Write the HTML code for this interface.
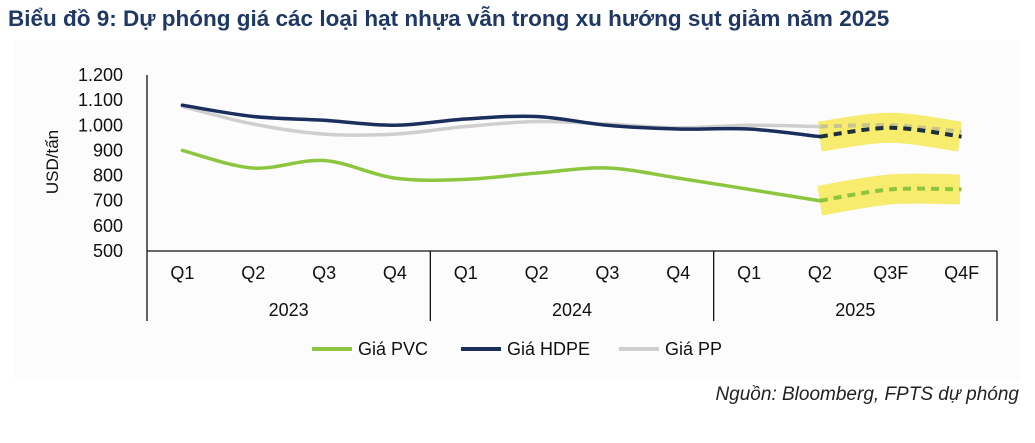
<!DOCTYPE html>
<html><head><meta charset="utf-8"><style>
body{margin:0;background:#fff;width:1035px;height:443px;overflow:hidden;font-family:"Liberation Sans",sans-serif}
#title{position:absolute;left:8px;top:6px;font-size:22.5px;font-weight:bold;color:#1f3864;white-space:nowrap}
#bg{position:absolute;left:15px;top:40px;width:1005px;height:340px;background:#fcfcfc}
#src{position:absolute;right:16px;top:384px;font-size:19px;font-style:italic;color:#222;white-space:nowrap}
svg{position:absolute;left:0;top:0}
</style></head><body>
<div id="title">Biểu đồ 9: Dự phóng giá các loại hạt nhựa vẫn trong xu hướng sụt giảm năm 2025</div>
<div id="bg"></div>
<svg id="chart" width="1035" height="443"></svg>
<div id="src">Nguồn: Bloomberg, FPTS dự phóng</div>
<script>
const quarters=["Q1","Q2","Q3","Q4","Q1","Q2","Q3","Q4","Q1","Q2","Q3F","Q4F"];
const years=["2023","2024","2025"];
const yTicks=[500,600,700,800,900,1000,1100,1200];
const yTickLabels=["500","600","700","800","900","1.000","1.100","1.200"];
const pvc=[900,830,860,790,785,810,830,790,745,700,745,745];
const hdpe=[1080,1035,1020,1000,1025,1035,1000,985,985,955,990,955];
const pp=[1075,1005,965,965,995,1015,1005,990,1000,995,1000,975];
const forecastStart=9;
const NS="http://www.w3.org/2000/svg";
const svg=document.getElementById('chart');
const X0=147,X1=997,Y0=251,Y1=75,YMIN=500,YMAX=1200;
const bw=(X1-X0)/quarters.length;
const xs=i=>X0+bw*(i+0.5);
const ys=v=>Y0-(v-YMIN)/(YMAX-YMIN)*(Y0-Y1);
function mk(tag,attrs){const e=document.createElementNS(NS,tag);for(const k in attrs)e.setAttribute(k,attrs[k]);svg.appendChild(e);return e;}
function txt(x,y,s,anchor,size){const t=mk('text',{x:x,y:y,'text-anchor':anchor,'font-size':size,fill:'#111','font-family':'Liberation Sans, sans-serif'});t.textContent=s;return t;}
let a=mk('line',{x1:X0,y1:Y1,x2:X0,y2:321,stroke:'#111','stroke-width':1.3});


a=mk('line',{x1:X0,y1:Y0,x2:X1,y2:Y0,stroke:'#111','stroke-width':1.3});


yTicks.forEach((v,i)=>{const t=txt(123,ys(v)+6,yTickLabels[i],'end',18);

});
const yt=txt(0,0,'USD/tấn','middle',17);
yt.setAttribute('transform','translate(58,162) rotate(-90)');


quarters.forEach((q,i)=>{const t=txt(xs(i),279,q,'middle',18);

});
years.forEach((y,g)=>{const gx0=X0+g*4*bw;
const l=mk('line',{x1:gx0+4*bw,y1:Y0,x2:gx0+4*bw,y2:321,stroke:'#111','stroke-width':1.3});


const t=txt(gx0+2*bw,316,y,'middle',18);

});
function path(vals,from,to){const p=[];for(let i=from;i<=to;i++)p.push([xs(i),ys(vals[i])]);
let d='M'+p[0][0]+','+p[0][1];
for(let i=0;i<p.length-1;i++){const p0=p[i-1]||p[i],p1=p[i],p2=p[i+1],p3=p[i+2]||p2;
d+=' C'+(p1[0]+(p2[0]-p0[0])/6)+','+(p1[1]+(p2[1]-p0[1])/6)+' '+(p2[0]-(p3[0]-p1[0])/6)+','+(p2[1]-(p3[1]-p1[1])/6)+' '+p2[0]+','+p2[1];}
return d;}
[hdpe,pvc].forEach(s=>{const h=mk('path',{d:path(s,forecastStart,11),fill:'none',stroke:'#f7ec6e','stroke-width':30,'stroke-linecap':'butt',transform:'translate(8,0) scale(0.99,1)'});

});
const series=[[pp,'#cfcfcf','pp'],[hdpe,'#1b2f5e','hdpe'],[pvc,'#8cc63f','pvc']];
const fcColor={pp:'#c9c48a',hdpe:'#1b2f3e',pvc:'#8cc63f'};
series.forEach(([s,c,n])=>{
const l=mk('path',{d:path(s,0,forecastStart),fill:'none',stroke:c,'stroke-width':3.5,'stroke-linecap':'round'});


const f=mk('path',{d:path(s,forecastStart,11),fill:'none',stroke:fcColor[n],'stroke-width':4,'stroke-dasharray':'8 6'});

});
const leg=[['Giá PVC','#8cc63f',312],['Giá HDPE','#1b2f5e',461],['Giá PP','#cfcfcf',619]];
leg.forEach(([t,c,x])=>{const l=mk('line',{x1:x,y1:349,x2:x+40,y2:349,stroke:c,'stroke-width':4});


const tt=txt(x+46,355,t,'start',18);

});
</script>
</body></html>
